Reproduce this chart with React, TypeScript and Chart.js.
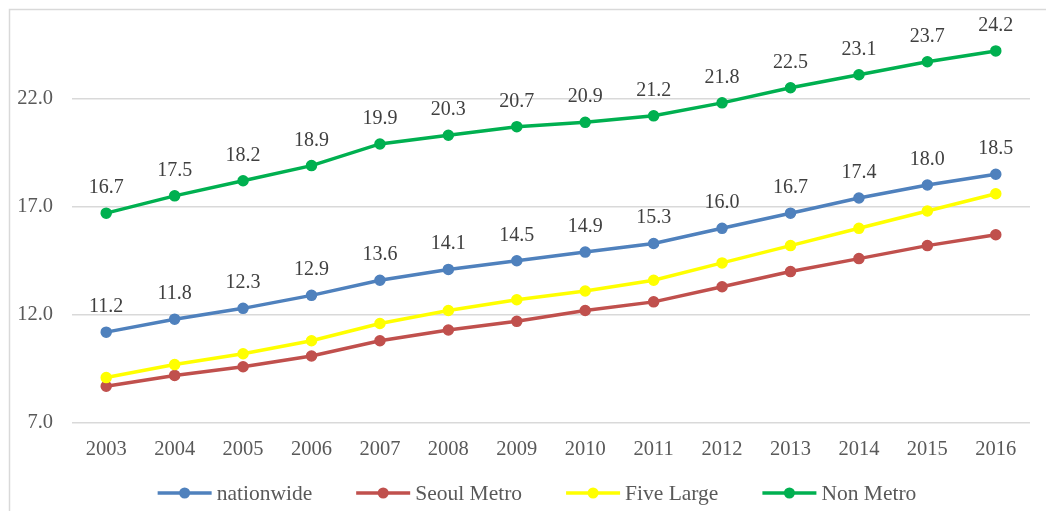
import React, { useEffect, useRef } from "react";
import { Chart, registerables } from "chart.js";

Chart.register(...registerables);

const years = ["2003", "2004", "2005", "2006", "2007", "2008", "2009", "2010", "2011", "2012", "2013", "2014", "2015", "2016"];
const nationwide = [11.2, 11.8, 12.3, 12.9, 13.6, 14.1, 14.5, 14.9, 15.3, 16.0, 16.7, 17.4, 18.0, 18.5];
const seoulMetro = [8.7, 9.2, 9.6, 10.1, 10.8, 11.3, 11.7, 12.2, 12.6, 13.3, 14.0, 14.6, 15.2, 15.7];
const fiveLarge = [9.1, 9.7, 10.2, 10.8, 11.6, 12.2, 12.7, 13.1, 13.6, 14.4, 15.2, 16.0, 16.8, 17.6];
const nonMetro = [16.7, 17.5, 18.2, 18.9, 19.9, 20.3, 20.7, 20.9, 21.2, 21.8, 22.5, 23.1, 23.7, 24.2];
const yTicks = [7, 12, 17, 22];

const seriesNames = ["nationwide", "Seoul Metro", "Five Large", "Non Metro"];
const seriesColors = ["#4F81BD", "#C0504D", "#FFFF00", "#00B050"];
const labeledSeries = [0, 3];

const FONT = "'Liberation Serif', 'Times New Roman', serif";

const framePlugin = {
  id: "frame",
  beforeDraw(chart: any) {
    const ctx = chart.ctx;
    ctx.save();
    ctx.fillStyle = "#ffffff";
    ctx.fillRect(0, 0, chart.width, chart.height);
    ctx.strokeStyle = "#D9D9D9";
    ctx.lineWidth = 1.5;
    ctx.beginPath();
    ctx.moveTo(9.5, chart.height + 5);
    ctx.lineTo(9.5, 9.5);
    ctx.lineTo(chart.width + 5, 9.5);
    ctx.stroke();
    ctx.restore();
  },
};

const labelPlugin = {
  id: "valueLabels",
  afterDatasetsDraw(chart: any) {
    const ctx = chart.ctx;
    ctx.save();
    ctx.font = `20px ${FONT}`;
    ctx.fillStyle = "#404040";
    ctx.textAlign = "center";
    ctx.textBaseline = "alphabetic";
    labeledSeries.forEach((di) => {
      const meta = chart.getDatasetMeta(di);
      const data = chart.data.datasets[di].data as number[];
      meta.data.forEach((pt: any, i: number) => {
        ctx.fillText(data[i].toFixed(1), pt.x, pt.y - 20);
      });
    });
    ctx.restore();
  },
};

const legendPlugin = {
  id: "customLegend",
  afterDraw(chart: any) {
    const ctx = chart.ctx;
    ctx.save();
    ctx.font = `21.5px ${FONT}`;
    const lineLen = 54;
    const gapText = 5;
    const gapItem = 44;
    const widths = seriesNames.map((n) => ctx.measureText(n).width);
    const total = widths.reduce((a, w) => a + lineLen + gapText + w, 0) + gapItem * (seriesNames.length - 1);
    let x = 537 - total / 2;
    const y = 493;
    seriesNames.forEach((name, i) => {
      ctx.strokeStyle = seriesColors[i];
      ctx.lineWidth = 3.5;
      ctx.beginPath();
      ctx.moveTo(x, y);
      ctx.lineTo(x + lineLen, y);
      ctx.stroke();
      ctx.fillStyle = seriesColors[i];
      ctx.beginPath();
      ctx.arc(x + lineLen / 2, y, 5.5, 0, Math.PI * 2);
      ctx.fill();
      ctx.fillStyle = "#595959";
      ctx.textAlign = "left";
      ctx.textBaseline = "middle";
      ctx.fillText(name, x + lineLen + gapText, y + 1);
      x += lineLen + gapText + widths[i] + gapItem;
    });
    ctx.restore();
  },
};

export default function App() {
  const canvasRef = useRef<HTMLCanvasElement | null>(null);

  useEffect(() => {
    if (!canvasRef.current) return;
    const seriesData = [nationwide, seoulMetro, fiveLarge, nonMetro];
    const chart = new Chart(canvasRef.current, {
      type: "line",
      data: {
        labels: years,
        datasets: seriesData.map((d, i) => ({
          label: seriesNames[i],
          data: d,
          borderColor: seriesColors[i],
          backgroundColor: seriesColors[i],
          pointBackgroundColor: seriesColors[i],
          pointBorderColor: seriesColors[i],
          pointRadius: 5,
          pointBorderWidth: 1.5,
          borderWidth: 3.5,
          tension: 0,
          fill: false,
          order: seriesData.length - i,
        })),
      },
      options: {
        animation: false,
        responsive: false,
        maintainAspectRatio: false,
        layout: { padding: { left: 0, right: 16, top: 12, bottom: 0 } },
        plugins: {
          legend: { display: false },
          tooltip: { enabled: false },
        },
        scales: {
          x: {
            offset: true,
            grid: { display: false, drawTicks: false },
            border: { display: false },
            ticks: {
              color: "#595959",
              font: { family: FONT, size: 20.5 },
              padding: 14,
              maxRotation: 0,
            },
            afterFit(scale: any) {
              scale.height = 88;
              scale.paddingLeft = 0;
              scale.paddingRight = 0;
              scale.paddingTop = 0;
              scale.paddingBottom = 0;
            },
          },
          y: {
            min: 7,
            max: 26,
            grid: { color: "#D9D9D9", lineWidth: 1.5, drawTicks: false },
            border: { display: false },
            afterBuildTicks(scale: any) {
              scale.ticks = yTicks.map((v) => ({ value: v }));
            },
            ticks: {
              color: "#595959",
              font: { family: FONT, size: 20.5 },
              padding: 19,
              callback: (v: any) => Number(v).toFixed(1),
            },
            afterFit(scale: any) {
              scale.width = 72;
              scale.paddingTop = 0;
              scale.paddingBottom = 0;
              scale.paddingLeft = 0;
              scale.paddingRight = 0;
            },
          },
        },
      },
      plugins: [framePlugin, labelPlugin, legendPlugin],
    });
    return () => chart.destroy();
  }, []);

  return (
    <div style={{ position: "fixed", left: 0, top: 0, width: 1046, height: 511, background: "#fff" }}>
      <canvas ref={canvasRef} width={1046} height={511} style={{ display: "block", width: 1046, height: 511 }} />
    </div>
  );
}
